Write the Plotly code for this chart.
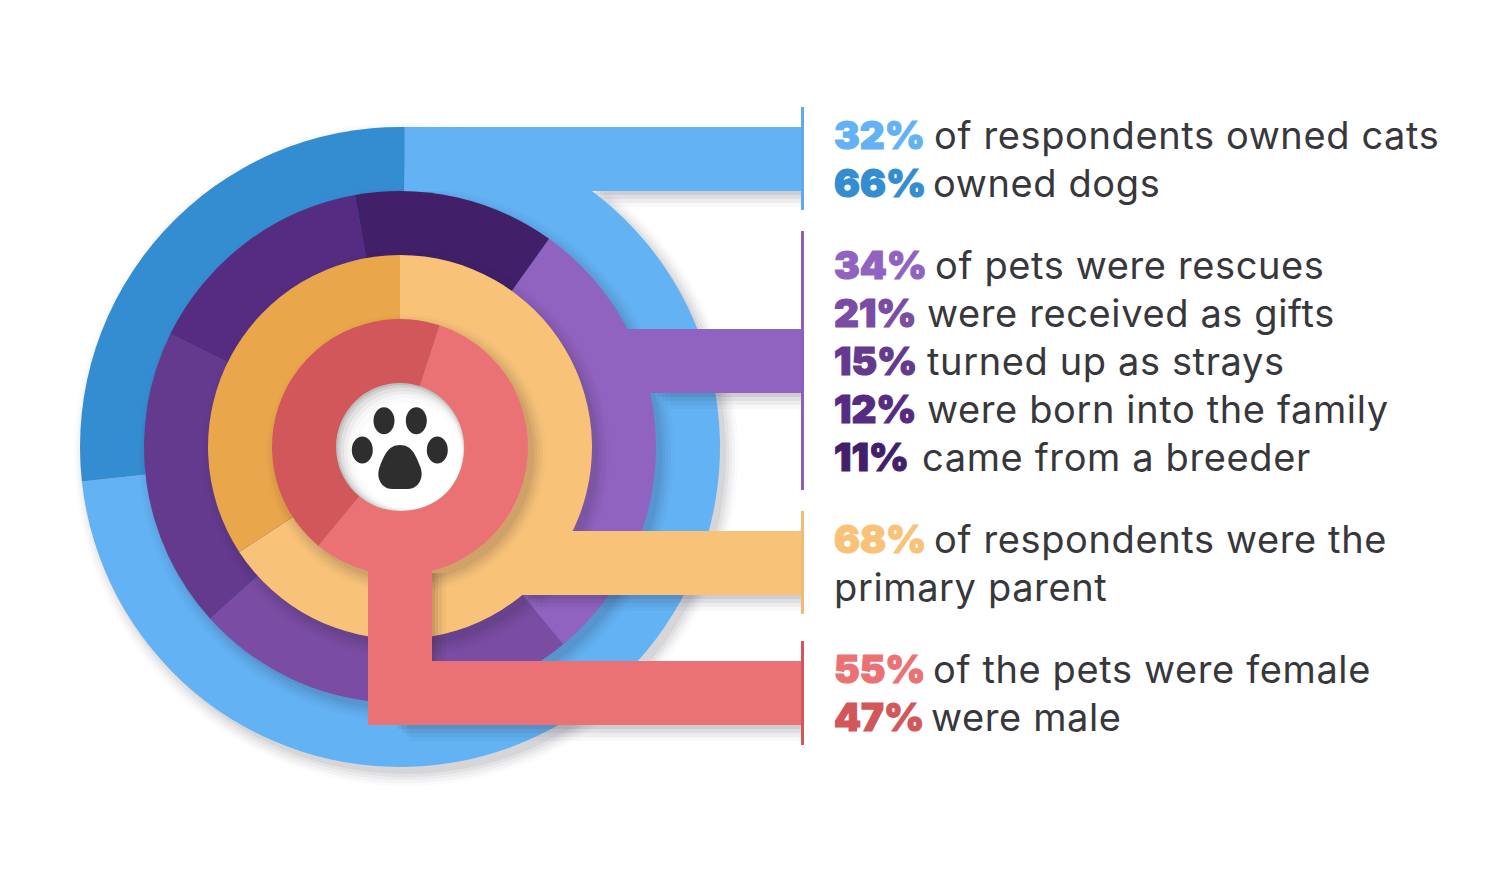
import plotly.graph_objects as go

W, H = 1500, 893
CX, CY = 400, 447

# ---- data read from the drawn rings (clockwise from each start angle, % of ring)
owner_names = ["Cats", "Dogs"]
owner_values = [73, 27]
owner_colors = ["#63B2F4", "#358DD1"]
owner_start = 1

origin_names = ["Rescues", "Gifts", "Strays", "Family", "Breeder"]
origin_values = [29.1, 24.3, 19.0, 14.9, 12.7]
origin_colors = ["#9163C0", "#7A4CA3", "#643A8F", "#552C81", "#421F69"]
origin_start = 35.6

parent_names = ["Primary parent", "Other"]
parent_values = [65.8, 34.2]
parent_colors = ["#F8C278", "#EAA64A"]
parent_start = 0

sex_names = ["Female", "Male"]
sex_values = [56, 44]
sex_colors = ["#EB7274", "#D1575A"]
sex_start = 18

# ---- text
pct_labels = ["32%", "66%", "34%", "21%", "15%", "12%", "11%", "68%", None, "55%", "47%"]
rest_labels = ["of respondents owned cats", "owned dogs", "of pets were rescues",
               "were received as gifts", "turned up as strays", "were born into the family",
               "came from a breeder", "of respondents were the", "primary parent",
               "of the pets were female", "were male"]
pct_colors = ["#63B2F4", "#358DD1", "#9163C0", "#7A4CA3", "#643A8F", "#552C81", "#421F69",
              "#F8C278", None, "#EB7274", "#D1575A"]
line_centers = [135, 183, 265, 313, 361, 409, 457, 539, 587, 669, 717]
rest_x = [932, 931, 933, 925, 925, 925, 920, 932, 832, 931, 929]
TEXT_COLOR = "#37373C"
PCT_X = 832


def fx(x):
    return x / W


def fy(y):
    return 1 - y / H


def dom(r, dx=0, dy=0):
    return dict(x=[fx(CX + dx - r), fx(CX + dx + r)],
                y=[fy(CY + dy + r), fy(CY + dy - r)])


fig = go.Figure()


def shadow_pies(r):
    for k, alpha in zip([12, 9, 6, 3, 0], [0.02, 0.03, 0.04, 0.05, 0.06]):
        fig.add_trace(go.Pie(values=[1], sort=False, textinfo="none", hoverinfo="skip",
                             showlegend=False, domain=dom(r + k, 6, 7),
                             marker=dict(colors=[f"rgba(40,30,50,{alpha})"], line=dict(width=0))))


def ring(names, values, colors, start, r):
    shadow_pies(r)
    fig.add_trace(go.Pie(labels=names, values=values, sort=False, direction="clockwise",
                         rotation=start, textinfo="none", showlegend=False, domain=dom(r),
                         marker=dict(colors=colors, line=dict(width=0))))


ring(owner_names, owner_values, owner_colors, owner_start, 320)
ring(origin_names, origin_values, origin_colors, origin_start, 256)
ring(parent_names, parent_values, parent_colors, parent_start, 192)
ring(sex_names, sex_values, sex_colors, sex_start, 128)

shapes = []


def rect(x0, y0, x1, y1, color, layer="above"):
    shapes.append(dict(type="rect", xref="paper", yref="paper", x0=fx(x0), x1=fx(x1),
                       y0=fy(y0), y1=fy(y1), fillcolor=color, line=dict(width=0), layer=layer))


def circle(cx, cy, rx, ry, color):
    shapes.append(dict(type="circle", xref="paper", yref="paper", x0=fx(cx - rx), x1=fx(cx + rx),
                       y0=fy(cy + ry), y1=fy(cy - ry), fillcolor=color, line=dict(width=0), layer="above"))


def bar_shadow(x0, y, x1, layer="above"):
    for k, a in zip([16, 12, 8, 4], [0.03, 0.05, 0.07, 0.09]):
        rect(x0 + 2 + k, y, x1, y + k, f"rgba(40,30,50,{a})", layer)


# connector shadows
bar_shadow(590, 191, 801, layer="below")
bar_shadow(652, 393, 801)
bar_shadow(522, 595, 801)
bar_shadow(392, 725, 801)
for k, a in zip([14, 10, 6, 3], [0.04, 0.06, 0.08, 0.1]):
    rect(432, 573, 432 + k, 661, f"rgba(60,40,30,{a})")

# connectors
rect(404.5, 127, 804, 191, owner_colors[0])
rect(612, 329, 804, 393, origin_colors[0])
rect(522, 531, 804, 595, parent_colors[0])
rect(368, 565, 432, 725, sex_colors[0])
rect(368, 661, 804, 725, sex_colors[0])

# tick lines beside the text blocks
rect(801, 107, 804, 210, "#5DABEC")
rect(801, 231, 804, 490, "#8D5FBC")
rect(801, 511, 804, 614, "#F2BC70")
rect(801, 641, 804, 745, "#D1575A")

# white hub with soft inner shadow
circle(CX, CY, 64, 64, "#BDBDBD")
for d, a in [(1.5, 0.3), (3, 0.35), (5, 0.4), (7, 0.5), (9, 0.6), (12, 1)]:
    r = 64 - d + 0.7
    circle(CX + d * 0.72, CY + d * 0.72, r, r, f"rgba(255,255,255,{a})")

# paw
PAW = "#2E2E2E"
circle(384, 420.7, 10.5, 13.5, PAW)
circle(416.3, 420.7, 10.5, 13.5, PAW)
circle(362.3, 450, 10.5, 13.5, PAW)
circle(437.3, 450, 10.5, 13.5, PAW)
pad = [("M", 400, 445), ("C", 412, 445, 416, 456, 420, 466), ("C", 425, 478, 418, 489, 408, 489),
       ("L", 392, 489), ("C", 382, 489, 375, 478, 380, 466), ("C", 384, 456, 388, 445, 400, 445)]
path = ""
for seg in pad:
    pts = seg[1:]
    path += seg[0] + " " + " ".join(
        f"{fx(pts[i]):.5f},{fy(pts[i + 1]):.5f}" for i in range(0, len(pts), 2)) + " "
shapes.append(dict(type="path", xref="paper", yref="paper", path=path + "Z",
                   fillcolor=PAW, line=dict(width=0), layer="above"))

# text
FONT = "Inter"
annotations = []
for pct, col, rest, yc, rx in zip(pct_labels, pct_colors, rest_labels, line_centers, rest_x):
    if pct:
        annotations.append(dict(text=f'<span style="stroke:{col};stroke-width:1.2px">{pct}</span>',
                                x=fx(PCT_X), y=fy(yc), xref="paper", yref="paper",
                                xanchor="left", yanchor="middle", showarrow=False,
                                font=dict(family=FONT, size=38.5, color=col, weight=900)))
    annotations.append(dict(text=f'<span style="letter-spacing:0.62px">{rest}</span>',
                            x=fx(rx), y=fy(yc), xref="paper", yref="paper",
                            xanchor="left", yanchor="middle", showarrow=False,
                            font=dict(family=FONT, size=38, color=TEXT_COLOR)))

fig.update_layout(width=W, height=H, margin=dict(l=0, r=0, t=0, b=0),
                  paper_bgcolor="white", plot_bgcolor="white",
                  shapes=shapes, annotations=annotations, showlegend=False)
fig.write_html("out.html", config={"displayModeBar": False},
               post_script="document.body.style.margin='0';")
